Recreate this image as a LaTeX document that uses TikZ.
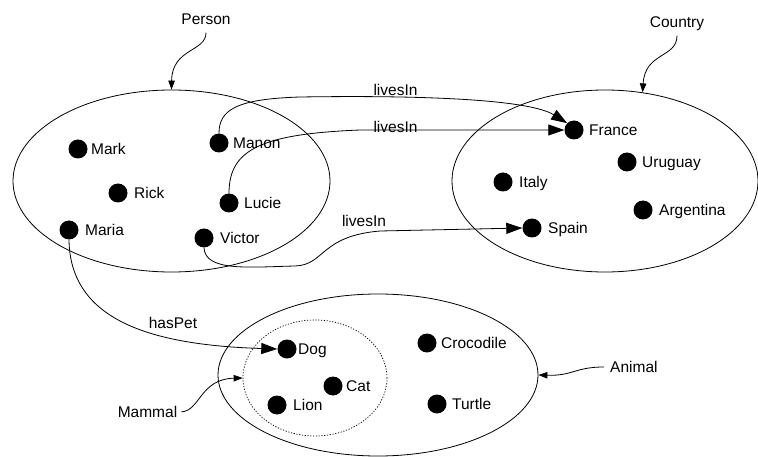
\documentclass[tikz,border=0pt]{standalone}
\usepackage{fontspec}
\setmainfont{Liberation Sans}
\usetikzlibrary{arrows.meta,shapes.geometric}
\begin{document}
\begin{tikzpicture}[x=1pt,y=-1pt,
  classset/.style={draw,ellipse,line width=0.8pt,inner sep=0pt},
  subset/.style={classset,line width=0.7pt,dash pattern=on 1.2pt off 1.6pt},
  member/.style={circle,fill=black,inner sep=0pt,minimum size=19pt},
  lbl/.style={anchor=west,inner sep=0pt,text height=11pt,text depth=0pt,
    font=\fontsize{15.5}{18}\selectfont},
  tag/.style={lbl,anchor=center},
  rel/.style={line width=0.8pt,-{Triangle[length=16pt,width=11pt]}},
  pointer/.style={line width=0.8pt,-{Triangle[length=9pt,width=6.5pt]}},
]
\useasboundingbox (0,0) rectangle (758,457);

% classes
\node[classset,minimum width=317pt,minimum height=182pt] (person) at (171.5,181) {};
\node[classset,minimum width=306pt,minimum height=182pt] (country) at (605,181) {};
\node[classset,minimum width=320pt,minimum height=162pt] (animal) at (378,375) {};
\node[subset,minimum width=144pt,minimum height=116pt] (mammal) at (315,378) {};

% class names
\node[tag] (personL) at (206,19) {Person};
\node[tag] (countryL) at (677,22) {Country};
\node[lbl] (animalL) at (610,367) {Animal};
\node[tag] (mammalL) at (147.5,412) {Mammal};

\draw[pointer,shorten <=8pt] (personL.south) .. controls (206,52) and (172,48) .. (person.north);
\draw[pointer,shorten <=8pt] (countryL.south) .. controls (677,58) and (645,52) .. (country.67);
\draw[pointer,shorten <=6pt] (animalL.west) .. controls (575,367) and (573,376) .. (animal.east);
\draw[pointer,shorten <=4pt] (mammalL.east) .. controls (200,411) and (200,379) .. (mammal.west);

% persons
\node[member] (mark) at (78,149) {};     \node[lbl] (markL) at (91,149) {Mark};
\node[member] (rick) at (118,193) {};    \node[lbl] (rickL) at (134,193) {Rick};
\node[member] (maria) at (69,230) {};    \node[lbl] (mariaL) at (85,230) {Maria};
\node[member] (manon) at (219,143) {};   \node[lbl] (manonL) at (233,143) {Manon};
\node[member] (lucie) at (229,203) {};   \node[lbl] (lucieL) at (244,203) {Lucie};
\node[member] (victor) at (204,238) {};  \node[lbl] (victorL) at (220,238) {Victor};

% countries
\node[member] (france) at (574,130) {};    \node[lbl] (franceL) at (589,130) {France};
\node[member] (uruguay) at (627,162) {};   \node[lbl] (uruguayL) at (642,162) {Uruguay};
\node[member] (italy) at (503,182) {};     \node[lbl] (italyL) at (519,182) {Italy};
\node[member] (argentina) at (643,210) {}; \node[lbl] (argentinaL) at (659,210) {Argentina};
\node[member] (spain) at (532,228) {};     \node[lbl] (spainL) at (548,228) {Spain};

% animals
\node[member] (dog) at (287,349) {};        \node[lbl] (dogL) at (298,349) {Dog};
\node[member] (cat) at (333,386) {};        \node[lbl] (catL) at (346,386) {Cat};
\node[member] (lion) at (277,405) {};       \node[lbl] (lionL) at (293,405) {Lion};
\node[member] (crocodile) at (427,343) {};  \node[lbl] (crocodileL) at (441,343) {Crocodile};
\node[member] (turtle) at (437,404) {};     \node[lbl] (turtleL) at (452,404) {Turtle};

% relations
\draw[rel] (manon.north) .. controls (219,110) and (236,99) .. (300,97)
  .. controls (430,95) and (530,100) .. (france.north west);
\node[tag] (lives1) at (395.5,90) {livesIn};

\draw[rel] (lucie.north) .. controls (229,150) and (260,134) .. (360,130) -- (france.west);
\node[tag] (lives2) at (395.5,127) {livesIn};

\draw[rel] (victor.south) .. controls (205,272) and (250,267) .. (295,266)
  .. controls (325,265) and (320,236) .. (380,231) -- (spain.west);
\node[tag] (lives3) at (364,221) {livesIn};

\draw[rel] (maria.south) .. controls (70,320) and (150,345) .. (dog.west);
\node[tag] (haspet) at (173,323) {hasPet};
\end{tikzpicture}
\end{document}
